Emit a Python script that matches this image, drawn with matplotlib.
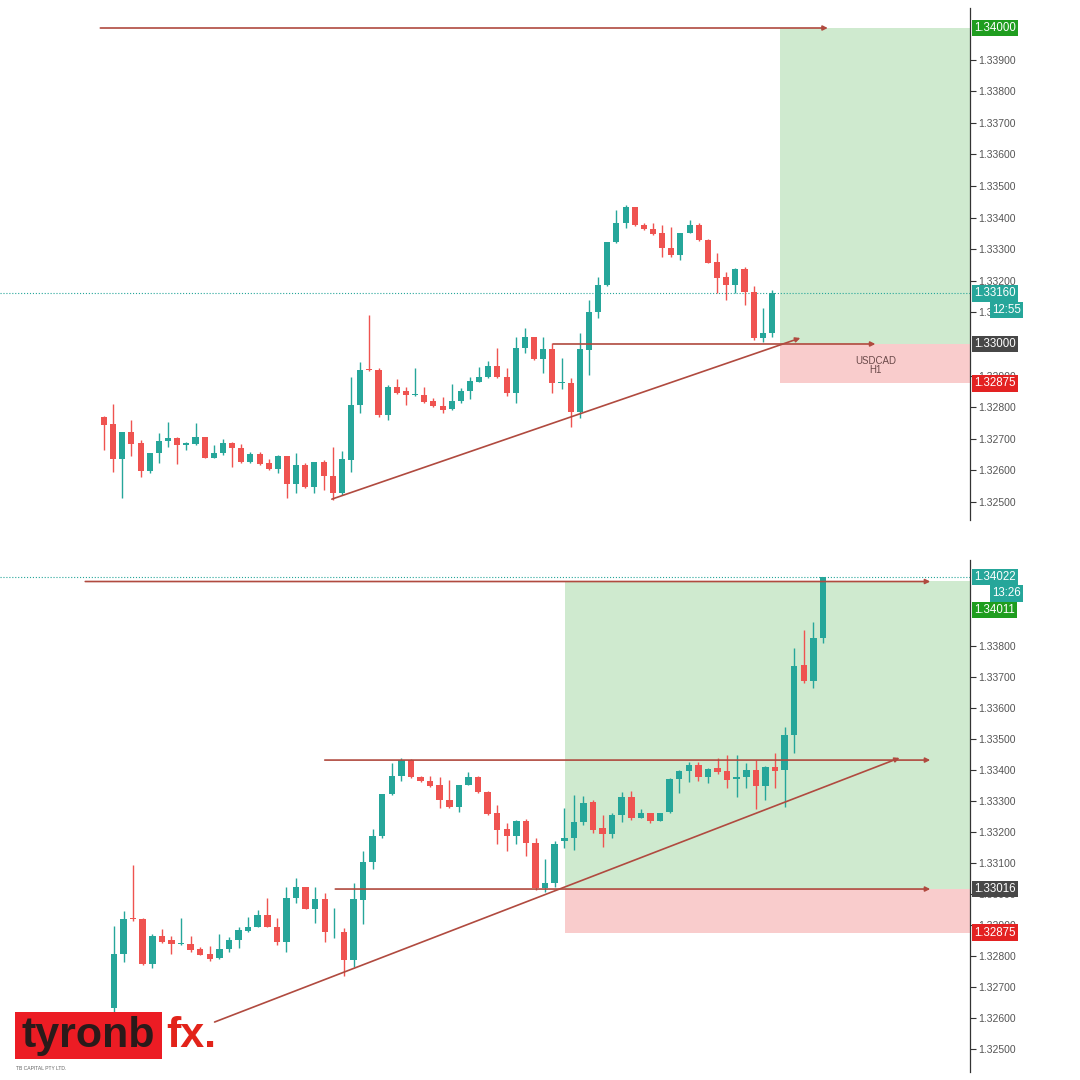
import matplotlib
matplotlib.use("Agg")
import matplotlib.pyplot as plt
import matplotlib.transforms as mtransforms
from matplotlib.patches import Rectangle
import numpy as np

# USDCAD H1 candles (one series, both panels)
opens = [1.32768, 1.32747, 1.32636, 1.32720, 1.32686, 1.32599, 1.32654, 1.32693, 1.32704, 1.32680,
         1.32684, 1.32707, 1.32640, 1.32654, 1.32686, 1.32672, 1.32626, 1.32652, 1.32622, 1.32603,
         1.32647, 1.32557, 1.32617, 1.32549, 1.32628, 1.32583, 1.32527, 1.32633, 1.32807, 1.32918,
         1.32918, 1.32775, 1.32865, 1.32851, 1.32840, 1.32839, 1.32821, 1.32805, 1.32793, 1.32821,
         1.32852, 1.32881, 1.32895, 1.32931, 1.32894, 1.32844, 1.32986, 1.33023, 1.32952, 1.32983,
         1.32876, 1.32878, 1.32786, 1.32981, 1.33102, 1.33187, 1.33324, 1.33382, 1.33433, 1.33377,
         1.33363, 1.33350, 1.33303, 1.33282, 1.33352, 1.33377, 1.33329, 1.33260, 1.33211, 1.33187,
         1.33236, 1.33166, 1.33018, 1.33034, 1.33172, 1.33182, 1.33233, 1.33298, 1.33212, 1.33193,
         1.33255, 1.33314, 1.33246, 1.33262, 1.33237, 1.33266, 1.33370, 1.33398, 1.33416, 1.33378,
         1.33405, 1.33397, 1.33370, 1.33378, 1.33400, 1.33348, 1.33411, 1.33400, 1.33513, 1.33738,
         1.33688, 1.33825]
highs = [1.32772, 1.32810, 1.32722, 1.32760, 1.32696, 1.32656, 1.32719, 1.32754, 1.32707, 1.32691,
         1.32751, 1.32707, 1.32680, 1.32698, 1.32691, 1.32684, 1.32659, 1.32659, 1.32635, 1.32649,
         1.32647, 1.32654, 1.32624, 1.32628, 1.32633, 1.32675, 1.32660, 1.32897, 1.32944, 1.33092,
         1.32923, 1.32870, 1.32888, 1.32863, 1.32923, 1.32865, 1.32828, 1.32833, 1.32872, 1.32860,
         1.32895, 1.32926, 1.32947, 1.32986, 1.32923, 1.33023, 1.33050, 1.33023, 1.33023, 1.33002,
         1.32955, 1.32891, 1.33034, 1.33139, 1.33211, 1.33324, 1.33424, 1.33440, 1.33435, 1.33382,
         1.33382, 1.33377, 1.33369, 1.33352, 1.33393, 1.33382, 1.33331, 1.33287, 1.33229, 1.33240,
         1.33243, 1.33182, 1.33113, 1.33171, 1.33276, 1.33319, 1.33316, 1.33303, 1.33255, 1.33260,
         1.33330, 1.33333, 1.33273, 1.33262, 1.33262, 1.33373, 1.33400, 1.33427, 1.33427, 1.33405,
         1.33438, 1.33448, 1.33448, 1.33421, 1.33432, 1.33413, 1.33456, 1.33540, 1.33792, 1.33852,
         1.33878, 1.34024]
lows = [1.32665, 1.32596, 1.32512, 1.32647, 1.32580, 1.32591, 1.32622, 1.32675, 1.32620, 1.32665,
        1.32680, 1.32638, 1.32638, 1.32649, 1.32612, 1.32624, 1.32622, 1.32617, 1.32601, 1.32593,
        1.32512, 1.32527, 1.32543, 1.32527, 1.32538, 1.32506, 1.32522, 1.32596, 1.32781, 1.32913,
        1.32770, 1.32760, 1.32842, 1.32807, 1.32835, 1.32814, 1.32802, 1.32783, 1.32791, 1.32812,
        1.32825, 1.32879, 1.32892, 1.32892, 1.32835, 1.32812, 1.32971, 1.32950, 1.32907, 1.32844,
        1.32857, 1.32736, 1.32765, 1.32902, 1.33081, 1.33182, 1.33319, 1.33366, 1.33374, 1.33361,
        1.33345, 1.33276, 1.33276, 1.33266, 1.33350, 1.33327, 1.33255, 1.33160, 1.33139, 1.33160,
        1.33124, 1.33013, 1.33007, 1.33023, 1.33147, 1.33142, 1.33223, 1.33196, 1.33153, 1.33180,
        1.33233, 1.33238, 1.33244, 1.33228, 1.33235, 1.33260, 1.33325, 1.33362, 1.33366, 1.33359,
        1.33387, 1.33341, 1.33314, 1.33341, 1.33273, 1.33303, 1.33341, 1.33282, 1.33456, 1.33680,
        1.33663, 1.33809]
closes = [1.32744, 1.32636, 1.32720, 1.32684, 1.32599, 1.32654, 1.32693, 1.32704, 1.32680, 1.32686,
          1.32707, 1.32640, 1.32654, 1.32686, 1.32672, 1.32626, 1.32652, 1.32620, 1.32603, 1.32647,
          1.32557, 1.32617, 1.32549, 1.32628, 1.32583, 1.32527, 1.32636, 1.32807, 1.32918, 1.32916,
          1.32775, 1.32865, 1.32846, 1.32839, 1.32840, 1.32818, 1.32804, 1.32791, 1.32821, 1.32852,
          1.32883, 1.32895, 1.32931, 1.32894, 1.32844, 1.32986, 1.33023, 1.32952, 1.32983, 1.32876,
          1.32876, 1.32786, 1.32983, 1.33102, 1.33187, 1.33324, 1.33382, 1.33433, 1.33377, 1.33363,
          1.33348, 1.33303, 1.33282, 1.33352, 1.33377, 1.33329, 1.33257, 1.33208, 1.33187, 1.33236,
          1.33166, 1.33018, 1.33034, 1.33160, 1.33180, 1.33233, 1.33295, 1.33207, 1.33193, 1.33255,
          1.33314, 1.33246, 1.33260, 1.33237, 1.33262, 1.33370, 1.33398, 1.33416, 1.33376, 1.33403,
          1.33394, 1.33368, 1.33378, 1.33400, 1.33348, 1.33411, 1.33398, 1.33513, 1.33735, 1.33688,
          1.33825, 1.34021]

top_range = (0, 74)      # candles shown in the first screenshot
bottom_range = (27, 102)  # candles shown in the later screenshot

# price scale ticks (the ones hidden under a price badge are left out)
top_ticks = [1.325, 1.326, 1.327, 1.328, 1.329, 1.331, 1.332, 1.333,
             1.334, 1.335, 1.336, 1.337, 1.338, 1.339]
bottom_ticks = [1.325, 1.326, 1.327, 1.328, 1.329, 1.330, 1.331, 1.332,
                1.333, 1.334, 1.335, 1.336, 1.337, 1.338]

UP = "#26a69a"
DOWN = "#ef5350"
LINE = "#b04a3f"

fig = plt.figure(figsize=(10.8, 10.8), dpi=100)
fig.patch.set_facecolor("white")


def px_axes(top_px, bottom_px, right_px=970):
    return fig.add_axes([0, 1 - bottom_px / 1080, right_px / 1080, (bottom_px - top_px) / 1080])


def candles(ax, start, stop, width):
    idx = np.arange(start, stop)
    o = np.array(opens[start:stop])
    h = np.array(highs[start:stop])
    l = np.array(lows[start:stop])
    c = np.array(closes[start:stop])
    cols = [UP if cc >= oo else DOWN for oo, cc in zip(o, c)]
    ax.vlines(idx, l, h, colors=cols, lw=1.0, zorder=3)
    body = c - o
    body = np.where(np.abs(body) < 0.00003, 0.00003, body)
    ax.bar(idx, body, width=width, bottom=o, color=cols, linewidth=0, zorder=3)


def style_axis(ax, ticks):
    for s in ["top", "left", "bottom"]:
        ax.spines[s].set_visible(False)
    ax.spines["right"].set_color("#333333")
    ax.spines["right"].set_linewidth(0.9)
    ax.set_xticks([])
    ax.yaxis.tick_right()
    ax.set_yticks(ticks)
    ax.set_yticklabels([f"{t:.5f}" for t in ticks])
    ax.tick_params(axis="y", length=4, width=0.8, color="#333333", labelcolor="#555555",
                   labelsize=7.5, pad=2)
    for lab in ax.get_yticklabels():
        lab.set_family("Liberation Sans")


def badge(ax, value, text, color, x_px=None, ha="left"):
    blend = mtransforms.blended_transform_factory(ax.transAxes, ax.transData)
    if x_px is None:
        xy, off = (1.0, value), (2.8, 0)
    else:
        xy, off = (x_px / 970, value), (0, 0)
    ax.annotate(text, xy=xy, xycoords=blend, xytext=off, textcoords="offset points",
                ha=ha, va="center", color="white", fontsize=8.3, family="Liberation Sans",
                bbox=dict(boxstyle="square,pad=0.2", fc=color, ec="none"),
                zorder=10, annotation_clip=False)


def arrow(ax, x0, y0, x1, y1):
    ax.annotate("", xy=(x1, y1), xytext=(x0, y0),
                arrowprops=dict(arrowstyle="-|>", color=LINE, lw=1.2, mutation_scale=7,
                                shrinkA=0, shrinkB=0),
                zorder=5)


# ---------------- top screenshot ----------------
ax1 = px_axes(8, 520)
ax1.set_xlim(-104 / 9.15, (970 - 104) / 9.15)
ax1.set_ylim(1.324430, 1.340633)
x_right = (970 - 104) / 9.15

ax1.add_patch(Rectangle((73.9, 1.33000), x_right - 73.9, 0.01, fc="#cfeacf", ec="none", zorder=1))
ax1.add_patch(Rectangle((73.9, 1.32875), x_right - 73.9, 0.00125, fc="#f9cccc", ec="none", zorder=1))
ax1.axhline(1.33160, color=UP, lw=0.8, ls=":", zorder=2)

candles(ax1, *top_range, width=0.66)

arrow(ax1, -0.4, 1.34000, 79.1, 1.34000)
arrow(ax1, 49.1, 1.33000, 84.3, 1.33000)
arrow(ax1, 24.9, 1.32509, 76.1, 1.33019)
ax1.text(84.3, 1.32932, "USDCAD\nH1", ha="center", va="center", fontsize=7,
         color="#6b4a4a", family="Liberation Sans", linespacing=0.9, zorder=6)

style_axis(ax1, top_ticks)
badge(ax1, 1.34000, "1.34000", "#1f9d1f")
badge(ax1, 1.33160, "1.33160", "#26a69a")
badge(ax1, 1.33160 - 0.00052, "12:55", "#26a69a", x_px=1021, ha="right")
badge(ax1, 1.33000, "1.33000", "#474747")
badge(ax1, 1.32875, "1.32875", "#e32222")

# ---------------- later screenshot ----------------
ax2 = px_axes(560, 1072)
x0b = 27 - 114 / 9.58
x1b = 27 + 856 / 9.58
ax2.set_xlim(x0b, x1b)
ax2.set_ylim(1.324258, 1.340774)

ax2.add_patch(Rectangle((74.1, 1.33016), x1b - 74.1, 0.00995, fc="#cfeacf", ec="none", zorder=1))
ax2.add_patch(Rectangle((74.1, 1.32875), x1b - 74.1, 0.00141, fc="#f9cccc", ec="none", zorder=1))
ax2.axhline(1.34022, color=UP, lw=0.8, ls=":", zorder=2)

candles(ax2, *bottom_range, width=0.68)

arrow(ax2, 24.0, 1.34008, 112.2, 1.34008)
arrow(ax2, 49.0, 1.33432, 112.2, 1.33432)
arrow(ax2, 50.1, 1.33016, 112.2, 1.33016)
arrow(ax2, 37.5, 1.32587, 109.0, 1.33439)

style_axis(ax2, bottom_ticks)
badge(ax2, 1.34022, "1.34022", "#26a69a")
badge(ax2, 1.34022 - 0.00052, "13:26", "#26a69a", x_px=1021, ha="right")
badge(ax2, 1.34022 - 0.00106, "1.34011", "#1f9d1f")
badge(ax2, 1.33016, "1.33016", "#474747")
badge(ax2, 1.32875, "1.32875", "#e32222")

# ---------------- logo ----------------
fig.patches.append(Rectangle((15 / 1080, 1 - 1059 / 1080), 147 / 1080, 47 / 1080,
                             transform=fig.transFigure, fc="#ec1c24", ec="none", zorder=20))
fig.text(21 / 1080, 1 - 1047 / 1080, "tyronb", fontsize=31, weight="bold", color="#2a1a1a",
         family="Liberation Sans", ha="left", va="baseline", zorder=21)
fig.text(166 / 1080, 1 - 1047 / 1080, "fx.", fontsize=31, weight="bold", color="#e2231a",
         family="Liberation Sans", ha="left", va="baseline", zorder=21)
fig.text(16 / 1080, 1 - 1068 / 1080, "TB CAPITAL PTY LTD.", fontsize=3.6, color="#666666",
         family="Liberation Sans", ha="left", va="center", zorder=21)

fig.savefig("out.png", dpi=100)
